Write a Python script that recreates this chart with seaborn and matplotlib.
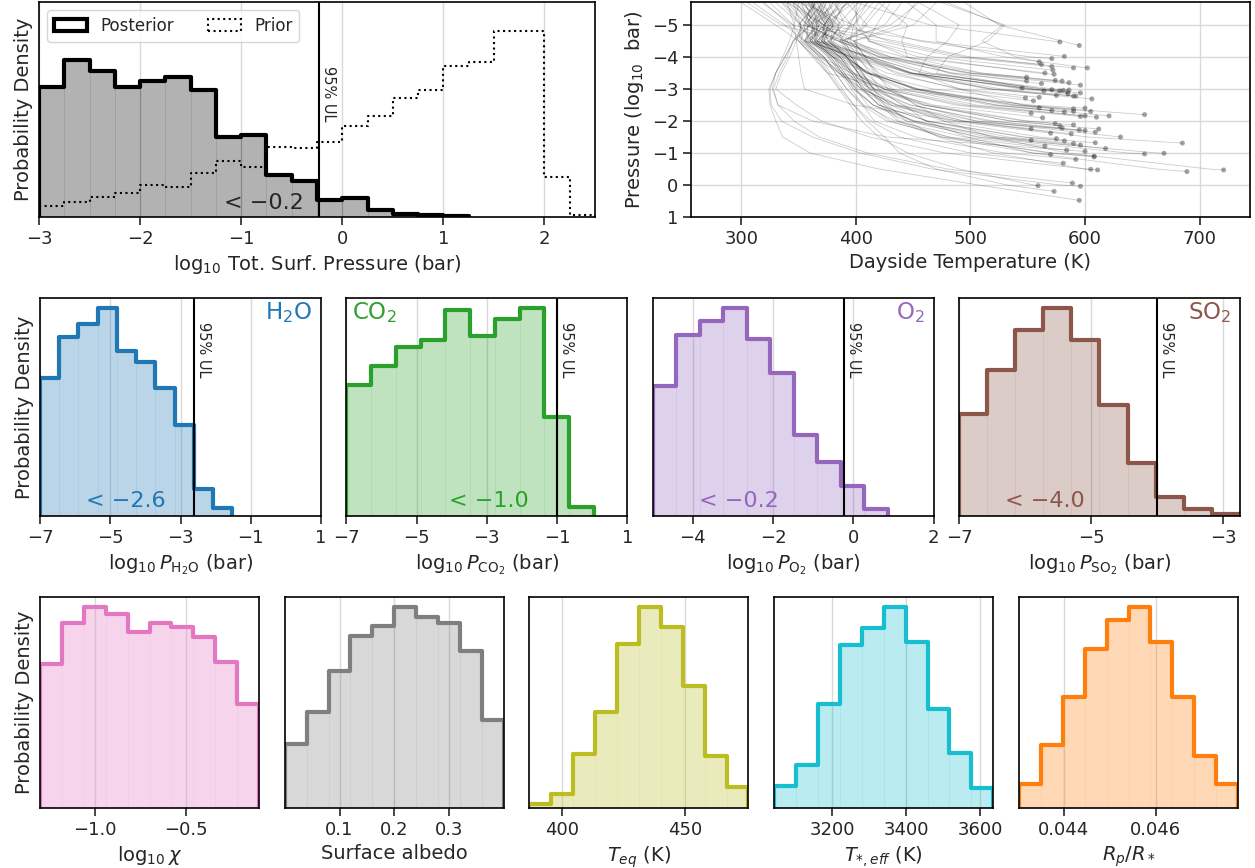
import numpy as np
import pandas as pd
import matplotlib
matplotlib.use("Agg")
import matplotlib.pyplot as plt
import seaborn as sns
from matplotlib.colors import to_rgba
from matplotlib.patches import Patch
from matplotlib.ticker import FormatStrFormatter

sns.set_style("ticks")
plt.rcParams['font.family'] = ['DejaVu Sans']
plt.rcParams['font.size'] = 14
plt.rcParams['axes.labelsize'] = 14
plt.rcParams['xtick.labelsize'] = 13
plt.rcParams['ytick.labelsize'] = 13
plt.rcParams['xtick.major.size'] = 5.5
plt.rcParams['ytick.major.size'] = 5.5
plt.rcParams['xtick.major.width'] = 1.2
plt.rcParams['ytick.major.width'] = 1.2
plt.rcParams['axes.edgecolor'] = 'black'
plt.rcParams['axes.linewidth'] = 1.2

# ---- top-left: total surface pressure ----
surf_edges = [-3.0, -2.75, -2.5, -2.25, -2.0, -1.75, -1.5, -1.25, -1.0, -0.75, -0.5,
              -0.25, 0.0, 0.25, 0.5, 0.75, 1.0, 1.25, 1.5, 1.75, 2.0, 2.25, 2.5]
post_surf = [394, 476, 440, 394, 412, 424, 384, 242, 248, 128, 109, 52, 56, 20, 10, 6, 2]
prior_surf = [34, 46, 60, 74, 96, 92, 132, 170, 150, 212, 209, 227, 276, 304, 360, 384,
              456, 470, 562, 562, 120, 6]
surf_ul = -0.23

# ---- top-right: T-P profiles (log10 P levels, temps per profile, surface point) ----
LEV = [-5.7, -5.0, -4.5, -4.0, -3.5, -3.0, -2.5, -2.0, -1.5, -1.0, -0.5, 0.0, 0.5]
profile_T = [
    [400, 465], [495, 525], [340, 372, 460], [420, 405, 455, 553], [480, 528, 510, 540],
    [395, 360, 435, 500], [330, 352, 420, 488], [410, 392, 428, 495], [445, 470, 470, 530],
    [352, 398, 412, 468], [318, 345, 390, 442], [372, 355, 390, 430, 508],
    [430, 418, 410, 455, 558], [345, 372, 390, 420, 485], [398, 402, 412, 445, 510],
    [305, 335, 385, 422, 500], [380, 365, 398, 424, 483], [358, 380, 366, 403, 449],
    [365, 350, 365, 408, 450, 545], [455, 430, 385, 420, 465, 563],
    [340, 358, 356, 397, 446, 555], [385, 372, 370, 412, 458, 565],
    [420, 445, 440, 445, 480, 556], [348, 362, 362, 396, 427, 492],
    [392, 410, 392, 415, 447, 518], [325, 345, 355, 388, 412, 467],
    [362, 385, 378, 408, 445, 515], [378, 368, 360, 395, 438, 520],
    [352, 376, 370, 390, 412, 451, 533], [370, 356, 352, 370, 396, 425, 487],
    [440, 425, 388, 400, 415, 450, 523], [360, 382, 366, 385, 410, 454, 548],
    [335, 352, 350, 362, 375, 430, 553], [388, 372, 372, 392, 410, 440, 505],
    [356, 362, 360, 380, 398, 430, 498], [415, 398, 395, 405, 420, 452, 522],
    [368, 388, 376, 392, 410, 452, 540], [320, 342, 350, 364, 385, 415, 468],
    [362, 374, 364, 380, 395, 417, 458, 547], [402, 384, 388, 396, 408, 425, 460, 535],
    [350, 366, 355, 370, 385, 405, 435, 494], [375, 360, 370, 386, 398, 412, 447, 520],
    [350, 346, 348, 350, 352, 355, 398, 490], [382, 390, 372, 390, 402, 416, 448, 515],
    [364, 354, 360, 376, 388, 405, 436, 505], [470, 450, 398, 408, 416, 432, 452, 505],
    [356, 378, 366, 382, 392, 408, 432, 488],
    [366, 350, 362, 378, 388, 398, 415, 450, 525], [386, 372, 375, 392, 402, 412, 436, 476, 560],
    [342, 364, 356, 372, 382, 392, 407, 434, 495], [425, 408, 390, 398, 406, 415, 430, 462, 533],
    [372, 380, 368, 384, 394, 404, 420, 462, 548], [358, 384, 370, 386, 396, 406, 420, 450, 515],
    [398, 372, 392, 402, 412, 420, 440, 494, 602], [336, 358, 358, 372, 382, 392, 405, 427, 482],
    [345, 360, 345, 340, 333, 328, 332, 362, 427],
    [362, 366, 364, 380, 390, 400, 410, 430, 476, 572],
    [380, 396, 376, 392, 402, 410, 425, 448, 505, 637],
    [354, 368, 362, 378, 388, 398, 415, 444, 508, 663],
    [338, 352, 352, 366, 376, 386, 398, 413, 438, 500],
    [345, 352, 348, 342, 335, 330, 348, 370, 412, 478, 600],
    [392, 376, 372, 388, 398, 408, 428, 444, 472, 520, 600],
    [410, 398, 380, 396, 406, 416, 442, 461, 497, 554, 662],
    [452, 438, 398, 408, 418, 428, 453, 477, 518, 585, 708],
    [300, 330, 350, 364, 375, 385, 395, 405, 420, 445, 490, 555],
    [340, 346, 342, 336, 330, 327, 332, 346, 368, 410, 480],
    [362, 355, 345, 338, 330, 325, 326, 335, 362, 404, 466, 578],
    [310, 338, 355, 368, 378, 388, 398, 410, 425, 438, 470, 532],
    [352, 360, 346, 338, 330, 324, 325, 330, 336, 360, 420, 507],
    [475, 530, 515, 480, 470, 552], [455, 490, 480, 462, 455, 490, 545],
    [374, 366, 366, 412, 460, 573], [366, 378, 358, 400, 448, 550],
    [384, 358, 384, 410, 434, 488], [358, 370, 364, 380, 410, 444, 517],
    [376, 386, 378, 392, 410, 455, 538], [346, 368, 354, 368, 388, 425, 492],
    [370, 362, 366, 382, 398, 424, 464, 550], [390, 380, 378, 394, 404, 420, 460, 535],
    [360, 374, 356, 372, 385, 402, 430, 483],
    [366, 376, 370, 386, 396, 406, 420, 462, 545], [372, 364, 364, 380, 390, 400, 415, 452, 522],
    [405, 395, 386, 396, 405, 415, 425, 438, 480, 568],
    [352, 372, 360, 376, 386, 396, 406, 416, 452, 530],
    [380, 370, 376, 392, 402, 412, 422, 436, 474, 555],
    [368, 380, 372, 410, 448, 527], [364, 358, 385, 428, 500], [392, 378, 398, 430, 496],
]
surf_T = [578, 595, 582, 571, 560, 562, 571, 590, 602, 572, 565, 549, 573, 549, 574, 580,
          562, 545, 564, 571, 578, 581, 585, 560, 575, 555, 606, 590, 560, 553, 571, 590,
          600, 600, 610, 621, 652, 563, 574, 578, 553, 580, 595, 600, 609, 631, 588, 553,
          575, 565, 590, 609, 618, 685, 584, 600, 608, 652, 669, 581, 605, 611, 689, 721,
          559, 589, 596, 573, 595, 585, 590, 586, 596, 548, 582, 605, 596, 590, 612, 570,
          582, 596, 608, 592, 570, 592, 586, 596]
surf_P = [-4.47, -4.36, -4.02, -3.95, -3.85, -3.77, -3.70, -3.66, -3.66, -3.59, -3.50,
          -3.37, -3.46, -3.25, -3.27, -3.25, -3.17, -3.03, -2.94, -2.98, -2.94, -2.96,
          -2.90, -2.74, -2.80, -2.63, -2.69, -2.78, -2.41, -2.24, -2.33, -2.38, -2.40,
          -2.16, -2.12, -2.16, -2.20, -2.10, -1.92, -1.85, -1.76, -1.78, -1.72, -1.70,
          -1.65, -1.50, -1.60, -1.40, -1.45, -1.22, -1.30, -1.32, -1.14, -1.31, -1.09,
          -1.05, -0.90, -0.97, -0.99, -0.68, -0.49, -0.47, -0.42, -0.47, 0.02, -0.06,
          0.04, 0.20, 0.48, -2.85, -2.30, -2.97, -2.88, -2.72, -2.28, -2.30, -2.14,
          -1.88, -1.75, -1.62, -1.38, -1.25, -0.88, -0.80, -0.95, -2.78, -3.20, -3.12]

# ---- middle row: gas partial pressures ----
h2o_range, h2o = (-7.0, -1.53), [413, 533, 573, 621, 493, 460, 381, 271, 81, 23]
co2_range, co2 = (-7.0, 0.05), [390, 445, 503, 523, 610, 535, 586, 618, 293, 26]
o2_range, o2 = (-5.0, 0.86), [386, 538, 581, 620, 526, 426, 241, 161, 88, 21]
so2_range, so2 = (-7.0, -2.75), [305, 435, 553, 620, 523, 331, 158, 58, 20, 7]
gas_ul = [-2.61, -1.0, -0.23, -4.01]
gas_ul_text = ["< \u22122.6", "< \u22121.0", "< \u22120.2", "< \u22124.0"]

# ---- bottom row ----
chi_range, chi = (-1.3, -0.1), [430, 551, 598, 578, 525, 551, 538, 510, 435, 310]
alb_range, alb = (0.0, 0.4), [191, 285, 408, 513, 541, 598, 568, 550, 468, 263]
teq_range, teq = (386.5, 476.1), [12, 42, 160, 284, 487, 597, 537, 362, 155, 63]
tst_range, tst = (3044, 3635), [65, 127, 307, 482, 532, 595, 492, 294, 162, 59]
rp_range, rp = (0.043035, 0.04779), [70, 187, 329, 469, 557, 594, 490, 327, 155, 70]


def hist_frame(edges, heights):
    edges = np.asarray(edges, float)
    return pd.DataFrame({"x": (edges[:-1] + edges[1:]) / 2,
                         "w": np.asarray(heights, float)})


def outline(ax, edges, heights, color, lw, ls="-"):
    # closed step outline: up at the first edge, down at the last one
    edges = [float(e) for e in edges]
    xs = [edges[0]] + edges + [edges[-1]]
    ys = [0.0] + list(heights) + [heights[-1], 0.0]
    sns.lineplot(x=xs, y=ys, sort=False, estimator=None, drawstyle="steps-post",
                 color=color, linewidth=lw, linestyle=ls, ax=ax)


def draw_hist(ax, edges, heights, color, lw=3.0, alpha=0.3):
    df = hist_frame(edges, heights)
    bins = [float(e) for e in edges]
    sns.histplot(data=df, x="x", weights="w", bins=bins, element="bars", fill=True,
                 color=color, alpha=alpha, edgecolor=to_rgba(color, 0.07),
                 linewidth=0.6, ax=ax)
    outline(ax, edges, heights, color, lw)


def style_hist(ax, xlim, xticks, ymax, xlabel, ylabel=""):
    ax.set_axisbelow(True)
    ax.grid(axis="x", color="0.85", lw=1)
    ax.set_xlim(*xlim)
    ax.set_xticks(xticks)
    ax.set_ylim(0, ymax)
    ax.set_yticks([])
    ax.set_xlabel(xlabel)
    ax.set_ylabel(ylabel)


def mark_ul(ax, x, ytop):
    ax.axvline(x, color="k", lw=1.5)
    ax.annotate("95% UL", xy=(x, ytop), xycoords=("data", "axes fraction"),
                xytext=(1.5, 0), textcoords="offset points", rotation=270,
                ha="left", va="top", fontsize=10.5)


fig = plt.figure(figsize=(12.55, 8.68), dpi=100)

# top-left
ax = fig.add_axes([0.0311, 0.75, 0.443, 0.2477])
draw_hist(ax, surf_edges[:len(post_surf) + 1], post_surf, "black", lw=3.0, alpha=0.3)
outline(ax, surf_edges, prior_surf, "black", 1.5, ls=":")
style_hist(ax, (-3, 2.5), [-3, -2, -1, 0, 1, 2], 650,
           "log$_{10}$ Tot. Surf. Pressure (bar)", "Probability Density")
mark_ul(ax, surf_ul, 0.70)
ax.text(-0.78, 0.065, "< \u22120.2", transform=ax.get_xaxis_transform(),
        ha="center", va="center", fontsize=16)
handles = [Patch(facecolor="none", edgecolor="black", lw=3),
           Patch(facecolor="none", edgecolor="black", lw=1.5, linestyle=":")]
ax.legend(handles, ["Posterior", "Prior"], loc="upper left", ncol=2, fontsize=12,
          frameon=True)

# top-right
rows = []
for k, temps in enumerate(profile_T):
    ps = LEV[:len(temps)] + [surf_P[k]]
    ts = temps + [surf_T[k]]
    for t, p in zip(ts, ps):
        rows.append((k, t, p))
tp = pd.DataFrame(rows, columns=["profile", "T", "P"])
dots = pd.DataFrame({"T": surf_T, "P": surf_P})

ax = fig.add_axes([0.5506, 0.75, 0.4454, 0.2477])
ax.set_axisbelow(True)
ax.grid(True, color="0.85", lw=1)
sns.lineplot(data=tp, x="T", y="P", units="profile", estimator=None, sort=False,
             color="black", alpha=0.2, lw=0.6, ax=ax, legend=False)
sns.scatterplot(data=dots, x="T", y="P", color="0.35", alpha=0.55, s=13,
                edgecolor="none", ax=ax, legend=False)
ax.set_xlim(256, 744)
ax.set_ylim(1, -5.72)
ax.set_xticks([300, 400, 500, 600, 700])
ax.set_yticks([-5, -4, -3, -2, -1, 0, 1])
ax.set_xlabel("Dayside Temperature (K)")
ax.set_ylabel("Pressure (log$_{10}$  bar)")

# middle row
mid_x = [0.0319, 0.2759, 0.5200, 0.7641]
gases = [
    (h2o_range, h2o, "#1f77b4", (-7, 1), [-7, -5, -3, -1, 1], r"log$_{10}\,P_{\mathrm{H_2O}}$ (bar)", "H$_2$O", "right", -4.55),
    (co2_range, co2, "#2ca02c", (-7, 1), [-7, -5, -3, -1, 1], r"log$_{10}\,P_{\mathrm{CO_2}}$ (bar)", "CO$_2$", "left", -2.94),
    (o2_range, o2, "#9467bd", (-5, 2), [-4, -2, 0, 2], r"log$_{10}\,P_{\mathrm{O_2}}$ (bar)", "O$_2$", "right", -2.85),
    (so2_range, so2, "#8c564b", (-7, -2.75), [-7, -5, -3], r"log$_{10}\,P_{\mathrm{SO_2}}$ (bar)", "SO$_2$", "right", -5.7),
]
for i, (rng, h, c, xlim, xt, xl, name, side, xtxt) in enumerate(gases):
    ax = fig.add_axes([mid_x[i], 0.4055, 0.2239, 0.2512])
    edges = np.linspace(rng[0], rng[1], len(h) + 1)
    draw_hist(ax, edges, h, c)
    style_hist(ax, xlim, xt, max(h) * 1.047, xl,
               "Probability Density" if i == 0 else "")
    mark_ul(ax, gas_ul[i], 0.89)
    ax.text(xtxt, 0.07, gas_ul_text[i], transform=ax.get_xaxis_transform(),
            ha="center", va="center", fontsize=16, color=c)
    if side == "right":
        ax.text(0.968, 0.99, name, transform=ax.transAxes, ha="right", va="top",
                fontsize=16.5, color=c)
    else:
        ax.text(0.02, 0.99, name, transform=ax.transAxes, ha="left", va="top",
                fontsize=16.5, color=c)

# bottom row
bot_x = [0.0319, 0.2269, 0.4219, 0.6169, 0.8120]
params = [
    (chi_range, chi, "#e377c2", [-1.0, -0.5], r"log$_{10}\,\chi$"),
    (alb_range, alb, "#7f7f7f", [0.1, 0.2, 0.3], "Surface albedo"),
    (teq_range, teq, "#bcbd22", [400, 450], r"$T_{eq}$ (K)"),
    (tst_range, tst, "#17becf", [3200, 3400, 3600], r"$T_{*,eff}$ (K)"),
    (rp_range, rp, "#ff7f0e", [0.044, 0.046], r"$R_p/R_*$"),
]
for i, (rng, h, c, xt, xl) in enumerate(params):
    ax = fig.add_axes([bot_x[i], 0.0691, 0.1745, 0.2431])
    edges = np.linspace(rng[0], rng[1], len(h) + 1)
    draw_hist(ax, edges, h, c)
    style_hist(ax, rng, xt, max(h) * 1.05, xl,
               "Probability Density" if i == 0 else "")
    if i == 4:
        ax.xaxis.set_major_formatter(FormatStrFormatter("%.3f"))
    if i == 1:
        ax.xaxis.set_major_formatter(FormatStrFormatter("%.1f"))

fig.savefig("out.png", dpi=100)
